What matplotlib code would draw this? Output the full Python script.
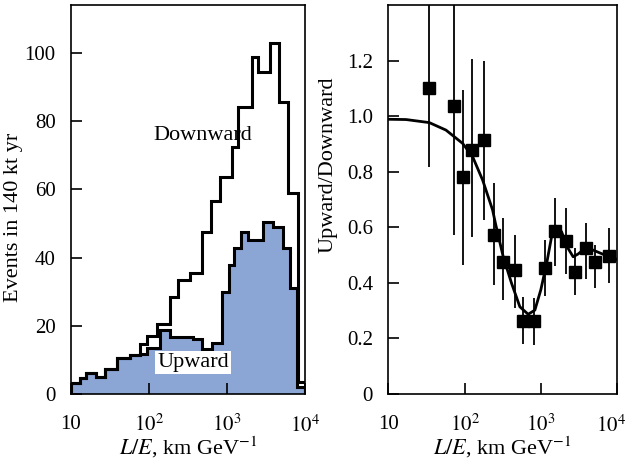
import numpy as np
import matplotlib
matplotlib.use("Agg")
import matplotlib.pyplot as plt
from matplotlib.ticker import FixedLocator, FixedFormatter, NullLocator
from matplotlib.transforms import ScaledTranslation

plt.rcParams['font.family'] = ['Liberation Serif', 'DejaVu Serif']
plt.rcParams['mathtext.fontset'] = 'stix'

# ---- left panel: event histograms (bin edges in log10 L/E) ----
down_edges_log = [1.000, 1.112, 1.196, 1.324, 1.432, 1.594, 1.753, 1.885, 1.978,
                  2.099, 2.269, 2.376, 2.526, 2.676, 2.791, 2.910, 3.060, 3.145,
                  3.317, 3.401, 3.551, 3.671, 3.786, 3.910, 4.000]
down_counts = [3.3, 4.6, 6.1, 5.1, 7.2, 10.5, 11.4, 14.6, 16.9, 20.6, 28.5, 33.4,
               35.4, 47.5, 56.6, 63.6, 72.5, 84.0, 98.9, 94.3, 102.8, 85.7, 59.0, 3.5]

up_edges_log = [1.000, 1.112, 1.196, 1.324, 1.432, 1.594, 1.753, 1.885, 1.978,
                2.141, 2.269, 2.568, 2.676, 2.804, 2.932, 3.029, 3.090, 3.176,
                3.273, 3.458, 3.594, 3.722, 3.808, 3.901, 4.000]
up_counts = [3.3, 4.6, 6.1, 5.1, 7.2, 10.5, 11.4, 11.8, 13.6, 18.8, 16.8, 16.0,
             13.1, 15.0, 30.0, 37.8, 42.9, 47.4, 45.2, 50.4, 49.1, 42.9, 31.2, 2.0]

# ---- right panel: ratio data ----
ratio_x = [34.5, 72.6, 95.5, 126.5, 180, 241, 323, 464, 584, 815, 1148, 1537,
           2144, 2840, 3880, 5200, 7780]
ratio_y = [1.101, 1.036, 0.780, 0.878, 0.914, 0.574, 0.476, 0.448, 0.264, 0.264,
           0.452, 0.587, 0.550, 0.441, 0.527, 0.474, 0.496]
ratio_hi = [1.45, 1.55, 1.094, 1.205, 1.199, 0.758, 0.632, 0.572, 0.350, 0.344,
            0.553, 0.704, 0.668, 0.524, 0.614, 0.537, 0.596]
ratio_lo = [0.816, 0.574, 0.466, 0.565, 0.625, 0.392, 0.338, 0.308, 0.180, 0.177,
            0.353, 0.460, 0.432, 0.356, 0.415, 0.382, 0.398]

# expected curve (log10 L/E, ratio)
curve_log = [1.000, 1.232, 1.537, 1.756, 1.975, 2.106, 2.237, 2.368, 2.405, 2.507,
             2.617, 2.725, 2.834, 2.922, 3.000, 3.080, 3.141, 3.206, 3.272, 3.358,
             3.424, 3.489, 3.600, 3.686, 3.817, 4.000]
curve_y = [0.989, 0.988, 0.977, 0.950, 0.902, 0.854, 0.770, 0.662, 0.614, 0.494,
           0.398, 0.314, 0.287, 0.302, 0.375, 0.475, 0.566, 0.604, 0.584, 0.524,
           0.494, 0.504, 0.528, 0.518, 0.503, 0.484]

xticks = [10, 100, 1000, 10000]
xticklabels = ['10', '$10^2$', '$10^3$', '$10^4$']
fs = 16

fig = plt.figure(figsize=(6.29, 4.63), dpi=100)
ax1 = fig.add_axes([0.1129, 0.149, 0.372, 0.840])
ax2 = fig.add_axes([0.6174, 0.149, 0.3636, 0.840])

ax1.stairs(up_counts, 10 ** np.array(up_edges_log), fill=True, color='#8ba5d5')
ax1.stairs(up_counts, 10 ** np.array(up_edges_log), color='black', lw=2.2, baseline=0)
ax1.stairs(down_counts, 10 ** np.array(down_edges_log), color='black', lw=2.2, baseline=0)
ax1.text(485, 75.7, 'Downward', fontsize=fs, ha='center', va='center')
ax1.text(366, 9.2, 'Upward', fontsize=fs, ha='center', va='center',
         bbox=dict(facecolor='white', edgecolor='none', pad=1.5))
ax1.set_ylim(0, 114)
ax1.set_yticks([0, 20, 40, 60, 80, 100])
ax1.set_ylabel('Events in 140 kt yr', fontsize=fs)
ax1.yaxis.set_label_coords(-0.205, 0.455)
ax1.xaxis.set_label_coords(0.517, -0.105)

yerr = [np.array(ratio_y) - np.array(ratio_lo), np.array(ratio_hi) - np.array(ratio_y)]
ax2.errorbar(ratio_x, ratio_y, yerr=yerr, fmt='s', color='black', ms=8.5,
             elinewidth=1.3, capsize=0)
ax2.plot(10 ** np.array(curve_log), curve_y, color='black', lw=2)
ax2.set_ylim(0, 1.4)
ax2.yaxis.set_major_locator(FixedLocator([0, 0.2, 0.4, 0.6, 0.8, 1.0, 1.2]))
ax2.yaxis.set_major_formatter(FixedFormatter(['0', '0.2', '0.4', '0.6', '0.8', '1.0', '1.2']))
ax2.set_ylabel('Upward/Downward', fontsize=fs)
ax2.yaxis.set_label_coords(-0.224, 0.59)
ax2.xaxis.set_label_coords(0.521, -0.105)

for ax in (ax1, ax2):
    ax.set_xscale('log')
    ax.set_xlim(10, 10000)
    ax.xaxis.set_major_locator(FixedLocator(xticks))
    ax.xaxis.set_major_formatter(FixedFormatter(xticklabels))
    ax.xaxis.set_minor_locator(NullLocator())
    ax.tick_params(direction='in', length=8, width=1.2, labelsize=15)
    ax.tick_params(axis='x', pad=15)
    ax.tick_params(axis='y', pad=11)
    ax.set_xlabel('$L/E$, km GeV$^{-1}$', fontsize=fs)
    for s in ax.spines.values():
        s.set_linewidth(1.2)

# nudge the last right-hand tick label a little left so it stays on the canvas
lab = ax2.xaxis.get_major_ticks()[-1].label1
lab.set_transform(lab.get_transform() + ScaledTranslation(-4 / 72, 0, fig.dpi_scale_trans))

fig.savefig('out.png', dpi=100)
